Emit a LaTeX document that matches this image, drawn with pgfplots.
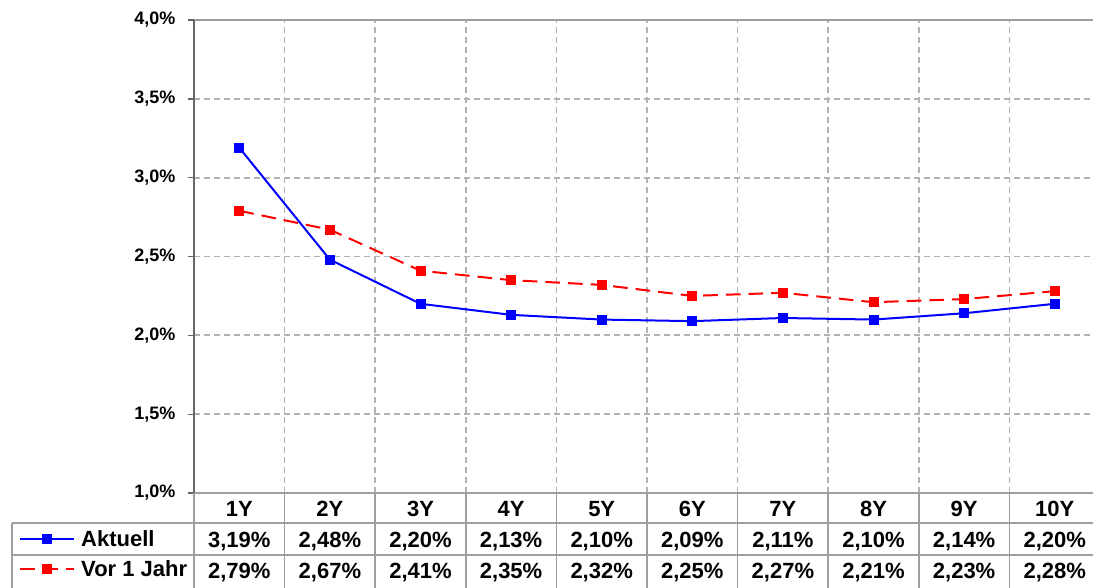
\documentclass[border=0pt]{standalone}
\usepackage{fontspec}
\setmainfont{Liberation Sans}
\usepackage{pgfplots}
\usepackage{pgfplotstable}
\pgfplotsset{compat=1.18}
\definecolor{myblue}{RGB}{0,0,255}
\definecolor{myred}{RGB}{255,0,0}
\pgfplotstableread{
x lbl akt vor
0 1Y 3.19 2.79
1 2Y 2.48 2.67
2 3Y 2.20 2.41
3 4Y 2.13 2.35
4 5Y 2.10 2.32
5 6Y 2.09 2.25
6 7Y 2.11 2.27
7 8Y 2.10 2.21
8 9Y 2.14 2.23
9 10Y 2.20 2.28
}\data
\newcommand{\tabfont}{\fontsize{16.5}{19}\selectfont\bfseries}
\begin{document}
\begin{tikzpicture}
\useasboundingbox (0,0) rectangle (819.75pt,440.25pt);
\clip (0,0) rectangle (819.75pt,440.25pt);
\begin{axis}[
  at={(145.5pt,70.5pt)}, anchor=south west,
  width=679.5pt, height=354.75pt, scale only axis,
  xmin=-0.5, xmax=9.5, ymin=1, ymax=4,
  clip=false,
  /pgf/number format/assume math mode=true,
  xtick={0.5,1.5,...,8.5}, xticklabels={},
  xtick style={draw=none},
  ytick={1,1.5,...,4},
  ytick pos=left,
  tick align=outside,
  major tick length=4.5pt,
  ytick style={draw=black!60, line width=1pt},
  yticklabel={\pgfmathprintnumber[fixed,fixed zerofill,precision=1,use comma]{\tick}\%},
  yticklabel style={font=\fontsize{13.5}{16}\selectfont\bfseries, xshift=-6pt},
  grid=major,
  major grid style={draw=black!30, line width=1.3pt, dash pattern=on 4.5pt off 3pt},
  separate axis lines,
  x axis line style={draw=black!38, line width=1.5pt},
  y axis line style={draw=black!60, line width=1.5pt},
  legend style={at={(-0.1932,-0.0655)}, anchor=north west, draw=none, fill=none,
    inner sep=0pt, row sep=0pt, font=\tabfont,
    nodes={minimum height=22.5pt, inner ysep=0pt, inner xsep=0pt},
    /tikz/every odd column/.append style={column sep=4.5pt}},
  legend cell align=left,
  legend image code/.code={\draw[mark repeat=2,mark phase=2,#1] plot coordinates {(0pt,0pt) (20.25pt,0pt) (40.5pt,0pt)};},
]
\addplot[myblue, line width=1.5pt, mark=square*, mark size=3pt, mark options={solid}] table[x=x,y=akt] {\data};
\addlegendentry{Aktuell}
\addplot[myred, line width=1.5pt, dash pattern=on 11pt off 6pt, mark=square*, mark size=3pt, mark options={solid}] table[x=x,y=vor] {\data};
\addlegendentry{Vor 1 Jahr}
% table text
\addplot[forget plot, draw=none, mark=none, nodes near coords, point meta=explicit symbolic,
  nodes near coords style={anchor=base, font=\tabfont, inner sep=0pt}]
  table[x=x, y expr=0.8541, meta=lbl] {\data};
\addplot[forget plot, draw=none, mark=none, point meta=explicit,
  nodes near coords={\pgfmathprintnumber[fixed,fixed zerofill,precision=2,use comma]{\pgfplotspointmeta}\%},
  nodes near coords style={anchor=base, font=\tabfont, inner sep=0pt}]
  table[x=x, y expr=0.6512, meta=akt] {\data};
\addplot[forget plot, draw=none, mark=none, point meta=explicit,
  nodes near coords={\pgfmathprintnumber[fixed,fixed zerofill,precision=2,use comma]{\pgfplotspointmeta}\%},
  nodes near coords style={anchor=base, font=\tabfont, inner sep=0pt}]
  table[x=x, y expr=0.4609, meta=vor] {\data};
% table rules
\begin{scope}[draw=black!38, line width=1.2pt]
\draw (axis cs:-2.5088,0.8097) -- (axis cs:10,0.8097);
\draw (axis cs:-2.5088,0.6068) -- (axis cs:10,0.6068);
\draw (axis cs:-2.5088,0.8097) -- (axis cs:-2.5088,0.3);
\draw (axis cs:-0.5,1) -- (axis cs:-0.5,0.3);
\draw (axis cs:0.5,1) -- (axis cs:0.5,0.3);
\draw (axis cs:1.5,1) -- (axis cs:1.5,0.3);
\draw (axis cs:2.5,1) -- (axis cs:2.5,0.3);
\draw (axis cs:3.5,1) -- (axis cs:3.5,0.3);
\draw (axis cs:4.5,1) -- (axis cs:4.5,0.3);
\draw (axis cs:5.5,1) -- (axis cs:5.5,0.3);
\draw (axis cs:6.5,1) -- (axis cs:6.5,0.3);
\draw (axis cs:7.5,1) -- (axis cs:7.5,0.3);
\draw (axis cs:8.5,1) -- (axis cs:8.5,0.3);
\end{scope}
\end{axis}
\end{tikzpicture}
\end{document}
